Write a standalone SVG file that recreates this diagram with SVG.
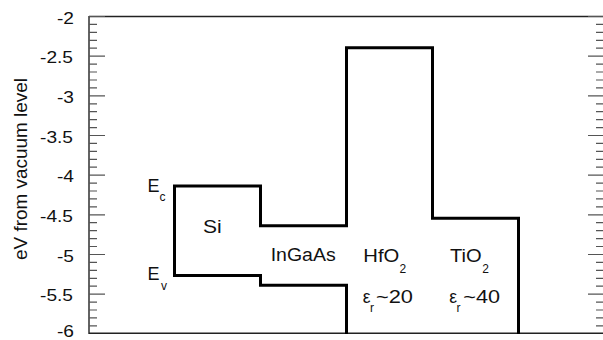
<svg xmlns="http://www.w3.org/2000/svg" width="603" height="340" viewBox="0 0 603 340">
<style>
text{font-family:"Liberation Sans",Arial,sans-serif;fill:#111}
.tl{font-size:17px;text-anchor:end}
.lb{font-size:17.5px}
.sb{font-size:12px}
.band{fill:none;stroke:#000;stroke-width:3;stroke-linejoin:miter;stroke-linecap:butt}
.frame{fill:none;stroke:#222;stroke-width:1.4}
.tk{stroke:#555;stroke-width:1.2}
</style>
<rect width="603" height="340" fill="#fff"/>
<g id="axes">
<path class="frame" d="M89,16.5H604M89,333.3H604M89,16V334"/>
<path class="tk" d="M89,16.5h16M89,24.4h8M89,32.4h8M89,40.3h8M89,48.2h8M89,56.2h16M89,64.1h8M89,72h8M89,80h8M89,87.9h8M89,95.8h16M89,103.8h8M89,111.7h8M89,119.6h8M89,127.6h8M89,135.5h16M89,143.4h8M89,151.4h8M89,159.3h8M89,167.2h8M89,175.1h16M89,183.1h8M89,191h8M89,198.9h8M89,206.9h8M89,214.8h16M89,222.7h8M89,230.7h8M89,238.6h8M89,246.5h8M89,254.5h16M89,262.4h8M89,270.3h8M89,278.3h8M89,286.2h8M89,294.1h16M89,302.1h8M89,310h8M89,317.9h8M89,325.9h8"/>
<path class="tk" d="M604,16.5h-16M604,24.4h-8M604,32.4h-8M604,40.3h-8M604,48.2h-8M604,56.2h-16M604,64.1h-8M604,72h-8M604,80h-8M604,87.9h-8M604,95.8h-16M604,103.8h-8M604,111.7h-8M604,119.6h-8M604,127.6h-8M604,135.5h-16M604,143.4h-8M604,151.4h-8M604,159.3h-8M604,167.2h-8M604,175.1h-16M604,183.1h-8M604,191h-8M604,198.9h-8M604,206.9h-8M604,214.8h-16M604,222.7h-8M604,230.7h-8M604,238.6h-8M604,246.5h-8M604,254.5h-16M604,262.4h-8M604,270.3h-8M604,278.3h-8M604,286.2h-8M604,294.1h-16M604,302.1h-8M604,310h-8M604,317.9h-8M604,325.9h-8"/>
<text class="tl" x="74" y="23.7" textLength="17" lengthAdjust="spacingAndGlyphs">-2</text>
<text class="tl" x="73" y="63.3" textLength="33" lengthAdjust="spacingAndGlyphs">-2.5</text>
<text class="tl" x="74" y="103" textLength="17" lengthAdjust="spacingAndGlyphs">-3</text>
<text class="tl" x="73" y="142.6" textLength="33" lengthAdjust="spacingAndGlyphs">-3.5</text>
<text class="tl" x="74" y="182.3" textLength="17" lengthAdjust="spacingAndGlyphs">-4</text>
<text class="tl" x="73" y="221.9" textLength="33" lengthAdjust="spacingAndGlyphs">-4.5</text>
<text class="tl" x="74" y="261.6" textLength="17" lengthAdjust="spacingAndGlyphs">-5</text>
<text class="tl" x="73" y="301.2" textLength="33" lengthAdjust="spacingAndGlyphs">-5.5</text>
<text class="tl" x="74" y="336.5" style="font-size:16px" textLength="17" lengthAdjust="spacingAndGlyphs">-6</text>
<text class="lb" transform="translate(27,169) rotate(-90)" text-anchor="middle" style="font-size:18.5px" textLength="182" lengthAdjust="spacingAndGlyphs">eV from vacuum level</text>
</g>
<g id="bands">
<path class="band" d="M346.5,334V285.3H260.5V275.5H174.5V186H260.5V225.7H346.5V47.7H432.5V218.3H518.5V334"/>
</g>
<g id="Ec">
<text class="lb" x="147.5" y="191.7" style="font-size:18px">E</text>
<text class="sb" x="159.5" y="201">c</text>
</g>
<g id="Ev">
<text class="lb" x="147.5" y="280" style="font-size:18px">E</text>
<text class="sb" x="161" y="290">v</text>
</g>
<g id="Si">
<text class="lb" x="203" y="232.7" style="font-size:18px" textLength="18.7" lengthAdjust="spacingAndGlyphs">Si</text>
</g>
<g id="InGaAs">
<text class="lb" x="270.7" y="260.7" textLength="65" lengthAdjust="spacingAndGlyphs">InGaAs</text>
</g>
<g id="HfO2">
<text class="lb" x="363.3" y="261.7" textLength="36" lengthAdjust="spacingAndGlyphs">HfO</text>
<text class="sb" x="399.5" y="272.7">2</text>
<text class="lb" x="362.7" y="303.3">ε</text>
<text class="sb" x="370" y="311.7">r</text>
<text class="lb" x="376" y="303.3" textLength="37" lengthAdjust="spacingAndGlyphs">~20</text>
</g>
<g id="TiO2">
<text class="lb" x="450" y="261.7" textLength="31.7" lengthAdjust="spacingAndGlyphs">TiO</text>
<text class="sb" x="482.3" y="272.7">2</text>
<text class="lb" x="449.3" y="303.3">ε</text>
<text class="sb" x="456.5" y="311.7">r</text>
<text class="lb" x="463.3" y="303.3" textLength="36.7" lengthAdjust="spacingAndGlyphs">~40</text>
</g>
</svg>
